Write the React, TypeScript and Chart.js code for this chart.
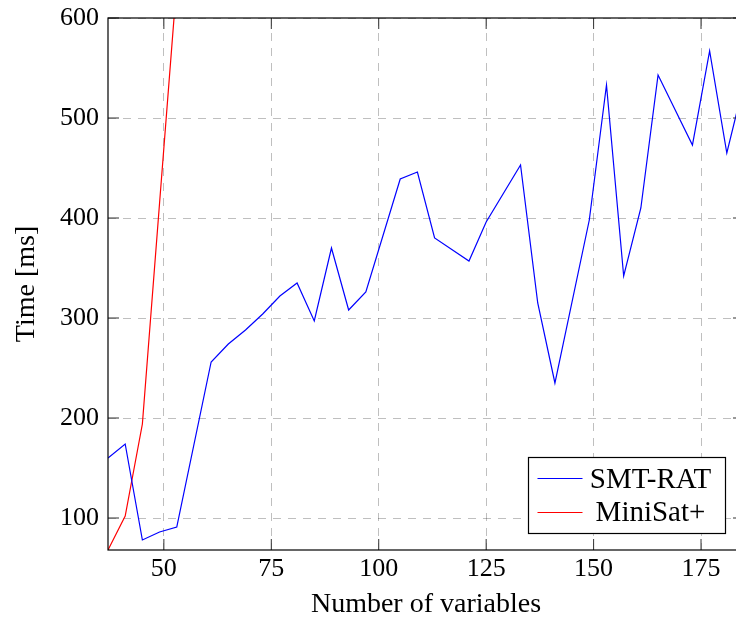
import { useEffect, useRef } from "react";
import { Chart, registerables } from "chart.js";

Chart.register(...registerables);

// Solve time per instance size
const smtVars = [37, 41, 45, 49, 53, 61, 65, 69, 73, 77, 81, 85, 89, 93, 97, 105, 109, 113, 121, 125, 133, 137, 141, 149, 153, 157, 161, 165, 173, 177, 181, 185];
const smtTime = [160, 174, 78, 86, 91, 256, 274, 288, 304, 322, 335, 297, 370, 308, 326, 439, 446, 380, 357, 396, 453, 315, 235, 398, 533, 342, 410, 543, 473, 567, 465, 535];
const miniVars = [37, 41, 45, 49, 53];
const miniTime = [68, 102, 194, 415, 635];

const xTicks = [50, 75, 100, 125, 150, 175];
const yTicks = [100, 200, 300, 400, 500, 600];

const seriesNames = ["SMT-RAT", "MiniSat+"];
const seriesColors = ["#0000ff", "#ff0000"];

const xLabel = "Number of variables";
const yLabel = "Time [ms]";

const FONT = '"Liberation Serif", "Times New Roman", serif';
const GRID = "rgba(0,0,0,0.25)";

// Box frame with inward tick marks on all four sides
const framePlugin = {
  id: "frameTicks",
  afterDatasetsDraw(chart: any) {
    const { ctx, chartArea: a, scales } = chart;
    const len = 11;
    ctx.save();
    ctx.strokeStyle = "#333";
    ctx.lineWidth = 1;
    ctx.beginPath();
    for (const v of xTicks) {
      const px = scales.x.getPixelForValue(v);
      ctx.moveTo(px, a.bottom);
      ctx.lineTo(px, a.bottom - len);
      ctx.moveTo(px, a.top);
      ctx.lineTo(px, a.top + len);
    }
    for (const v of yTicks) {
      const py = scales.y.getPixelForValue(v);
      ctx.moveTo(a.left, py);
      ctx.lineTo(a.left + len, py);
      ctx.moveTo(a.right, py);
      ctx.lineTo(a.right - len, py);
    }
    ctx.stroke();
    ctx.strokeStyle = "#000";
    ctx.lineWidth = 1.2;
    ctx.strokeRect(a.left, a.top, a.right - a.left, a.bottom - a.top);
    ctx.restore();
  },
};

// Legend box in the lower right corner of the plot
const legendPlugin = {
  id: "cornerLegend",
  afterDraw(chart: any) {
    const { ctx, chartArea: a } = chart;
    const w = 197;
    const h = 76;
    const right = a.right - 18.5;
    const bottom = a.bottom - 16.5;
    const left = right - w;
    const top = bottom - h;
    ctx.save();
    ctx.fillStyle = "#fff";
    ctx.fillRect(left, top, w, h);
    ctx.strokeStyle = "#000";
    ctx.lineWidth = 1.2;
    ctx.strokeRect(left, top, w, h);
    ctx.font = `29px ${FONT}`;
    ctx.textAlign = "center";
    ctx.textBaseline = "alphabetic";
    chart.data.datasets.forEach((ds: any, i: number) => {
      const ly = top + 21 + i * 34;
      ctx.strokeStyle = ds.borderColor;
      ctx.lineWidth = 1.2;
      ctx.beginPath();
      ctx.moveTo(left + 9, ly);
      ctx.lineTo(left + 54, ly);
      ctx.stroke();
      ctx.fillStyle = "#000";
      ctx.fillText(ds.label, left + 122, top + 30 + i * 33);
    });
    ctx.restore();
  },
};

export default function App() {
  const canvasRef = useRef<HTMLCanvasElement>(null);

  useEffect(() => {
    const canvas = canvasRef.current;
    if (!canvas) return;
    const chart = new Chart(canvas, {
      type: "line",
      data: {
        datasets: [
          {
            label: seriesNames[0],
            data: smtVars.map((x, i) => ({ x, y: smtTime[i] })),
            borderColor: seriesColors[0],
            borderWidth: 1.2,
            pointRadius: 0,
            tension: 0,
            fill: false,
          },
          {
            label: seriesNames[1],
            data: miniVars.map((x, i) => ({ x, y: miniTime[i] })),
            borderColor: seriesColors[1],
            borderWidth: 1.2,
            pointRadius: 0,
            tension: 0,
            fill: false,
          },
        ],
      },
      options: {
        animation: false,
        responsive: false,
        devicePixelRatio: 1,
        layout: { padding: { top: 18, right: 6, bottom: 0, left: 0 } },
        plugins: {
          legend: { display: false },
          tooltip: { enabled: false },
        },
        scales: {
          x: {
            type: "linear",
            min: 37,
            max: 185,
            afterBuildTicks: (s: any) => {
              s.ticks = xTicks.map((value) => ({ value }));
            },
            afterFit: (s: any) => {
              s.height = 69;
              s.paddingLeft = 0;
              s.paddingRight = 0;
            },
            ticks: {
              font: { family: FONT, size: 26 },
              color: "#000",
              padding: 4,
              maxRotation: 0,
            },
            grid: { color: GRID, lineWidth: 1, drawTicks: false },
            border: { display: false, dash: [8, 7] },
            title: {
              display: true,
              text: xLabel,
              color: "#000",
              font: { family: FONT, size: 28, lineHeight: 1 },
              padding: { top: 0, bottom: 0 },
            },
          },
          y: {
            type: "linear",
            min: 68,
            max: 600,
            afterBuildTicks: (s: any) => {
              s.ticks = yTicks.map((value) => ({ value }));
            },
            afterFit: (s: any) => {
              s.width = 108;
              s.paddingTop = 0;
              s.paddingBottom = 0;
            },
            ticks: {
              font: { family: FONT, size: 26 },
              color: "#000",
              padding: 9,
            },
            grid: { color: GRID, lineWidth: 1, drawTicks: false },
            border: { display: false, dash: [8, 7] },
            title: {
              display: true,
              text: yLabel,
              color: "#000",
              font: { family: FONT, size: 28, lineHeight: 1 },
              padding: { top: 13, bottom: 0 },
            },
          },
        },
      },
      plugins: [framePlugin, legendPlugin],
    });
    return () => chart.destroy();
  }, []);

  return (
    <div
      style={{
        position: "fixed",
        left: 0,
        top: 0,
        width: 736,
        height: 619,
        overflow: "hidden",
        background: "#fff",
      }}
    >
      <canvas ref={canvasRef} width={750} height={619} style={{ display: "block" }} />
    </div>
  );
}
